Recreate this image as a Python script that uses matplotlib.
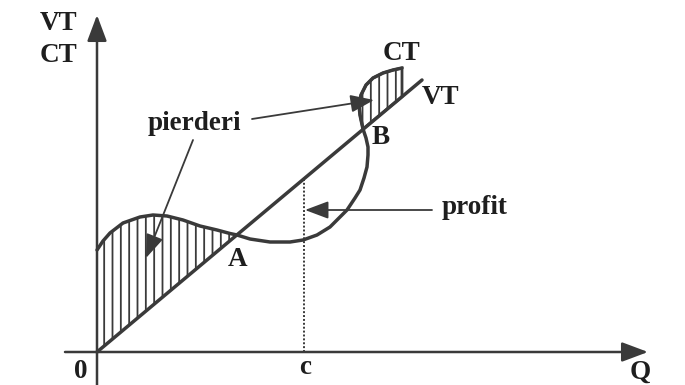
import numpy as np
import matplotlib
matplotlib.use("Agg")
import matplotlib.pyplot as plt

# values (q = quantity, v = value), arbitrary units
ct_q = [0.0, 0.6, 1.3, 2.6, 4.3, 5.6, 7.0, 8.6, 10.3, 12.0, 13.3, 14.0, 15.3,
        17.3, 19.3, 20.6, 22.0, 23.3, 25.0, 25.8, 26.3, 26.7, 27.0, 27.1,
        27.1, 26.9, 26.6, 26.3, 26.2, 26.4, 26.9, 27.6, 28.6, 29.6, 30.5]
ct_v = [10.2, 11.1, 11.9, 12.9, 13.5, 13.7, 13.6, 13.2, 12.6, 12.2, 11.85,
        11.7, 11.3, 11.0, 11.0, 11.2, 11.7, 12.5, 14.2, 15.4, 16.2, 17.4,
        18.5, 19.7, 20.5, 21.4, 22.3, 23.7, 24.7, 25.7, 26.7, 27.4, 27.9,
        28.2, 28.4]
vt_q = [0.0, 32.5]
vt_v = [0.0, 27.2]

idx_A = 11      # CT point where CT meets VT (A)
idx_B = 26      # CT point where CT meets VT again (B)
c_q = 20.7

ink = "#3a3a3a"
font = dict(family="Liberation Serif", weight="bold", size=19.5, color="#1e1e1e")

plt.rcParams["hatch.linewidth"] = 1.3
fig = plt.figure(figsize=(6.85, 3.85), dpi=100)
ax = fig.add_axes([0, 0, 1, 1])
ax.set_xlim(-9.7, 58.8)
ax.set_ylim(-3.3, 35.2)
ax.axis("off")


def vt(q):
    return np.interp(q, vt_q, vt_v)


# axes with arrows
head = "-|>,head_length=0.8,head_width=0.3"
ax.annotate("", xy=(0, 33.7), xytext=(0, -3.4),
            arrowprops=dict(arrowstyle=head, mutation_scale=20, lw=1.8,
                            color=ink, shrinkA=0, shrinkB=0))
ax.annotate("", xy=(55.1, 0), xytext=(-3.2, 0),
            arrowprops=dict(arrowstyle=head, mutation_scale=20, lw=1.8,
                            color=ink, shrinkA=0, shrinkB=0))

# losses: hatched areas between CT and VT
q_left = ct_q[:idx_A + 1]
v_left = ct_v[:idx_A + 1]
ax.fill(q_left + [q_left[-1], 0], v_left + [vt(q_left[-1]), 0],
        facecolor="none", edgecolor=ink, hatch="||", lw=0)
q_right = ct_q[idx_B:]
v_right = ct_v[idx_B:]
ax.fill(q_right + [q_right[-1]], v_right + [vt(q_right[-1])],
        facecolor="none", edgecolor=ink, hatch="||", lw=2)

# VT and CT
ax.plot(vt_q, vt_v, color=ink, lw=2.5, solid_capstyle="round")
ax.plot(ct_q, ct_v, color=ink, lw=2.5, solid_capstyle="round")

# production level c
ax.plot([c_q, c_q], [0, vt(c_q)], color=ink, lw=1.4, ls=(0, (1, 1)))

# pointer arrows
for start, tip in [((9.6, 21.2), (4.9, 9.4)),
                   ((15.5, 23.3), (27.7, 25.2)),
                   ((33.5, 14.2), (20.8, 14.2))]:
    ax.annotate("", xy=tip, xytext=start,
                arrowprops=dict(arrowstyle=head, mutation_scale=18, lw=1.3,
                                color=ink, shrinkA=0, shrinkB=0))

ax.text(-2.0, 32.9, "VT", ha="right", va="center", **font)
ax.text(-2.0, 29.7, "CT", ha="right", va="center", **font)
ax.text(9.7, 22.9, "pierderi", ha="center", va="center", **font)
ax.text(30.4, 29.9, "CT", ha="center", va="center", **font)
ax.text(34.4, 25.4, "VT", ha="center", va="center", **font)
ax.text(28.4, 21.4, "B", ha="center", va="center", **font)
ax.text(14.1, 9.2, "A", ha="center", va="center", **font)
ax.text(37.8, 14.4, "profit", ha="center", va="center", **font)
ax.text(-1.6, -1.9, "0", ha="center", va="center", **font)
ax.text(20.8, -1.6, "c", ha="center", va="center", **font)
ax.text(54.3, -2.0, "Q", ha="center", va="center", **font)

fig.savefig("out.png", dpi=100, facecolor="white")
